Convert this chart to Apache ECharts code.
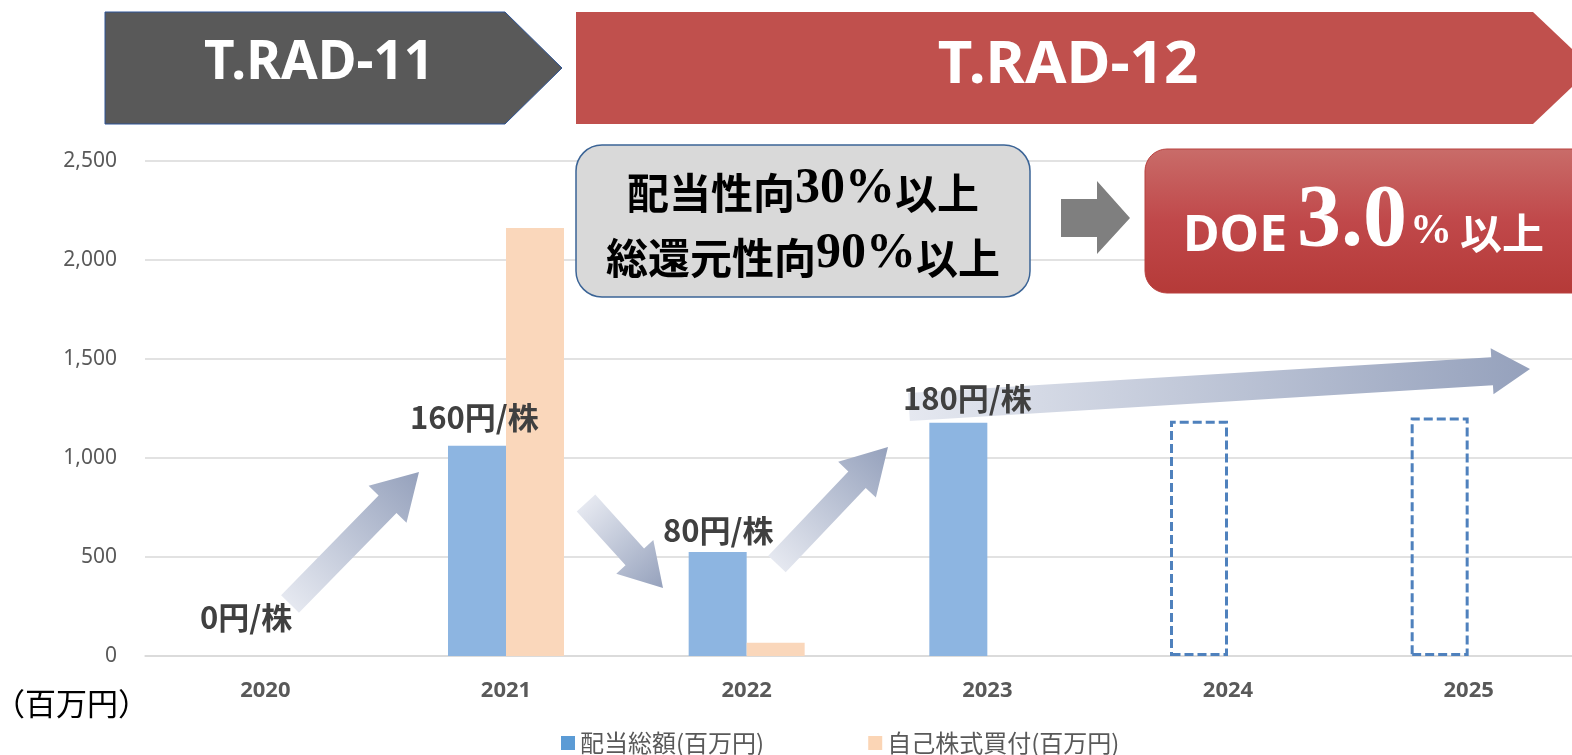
<!DOCTYPE html>
<html>
<head>
<meta charset="utf-8">
<script src="https://cdn.jsdelivr.net/npm/echarts@6/dist/echarts.min.js"></script>
<style>
  html, body { margin: 0; padding: 0; background: #fff; }
  #main { width: 1572px; height: 755px; }
</style>
</head>
<body>
<div id="main"></div>
<script>
// data
var years = ['2020', '2021', '2022', '2023', '2024', '2025'];
var dividendTotal = [0, 1062, 525, 1178, '-', '-'];
var buyback = [0, 2161, 67, 0, '-', '-'];
var planned = ['-', '-', '-', '-', 1188, 1205];
var dpsLabels = ['0円/株', '160円/株', '80円/株', '180円/株'];
var yTicks = [0, 500, 1000, 1500, 2000, 2500];

var jp = '"Noto Sans CJK JP", "Noto Sans", sans-serif';
var chart = echarts.init(document.getElementById('main'));

// block arrow polygon, tail centre -> tip
function arrowPts(x1, y1, x2, y2, sw, hw, hl) {
  var dx = x2 - x1, dy = y2 - y1, L = Math.sqrt(dx * dx + dy * dy);
  var ux = dx / L, uy = dy / L, nx = -uy, ny = ux;
  var bx = x2 - ux * hl, by = y2 - uy * hl;
  return [
    [x1 + nx * sw / 2, y1 + ny * sw / 2],
    [bx + nx * sw / 2, by + ny * sw / 2],
    [bx + nx * hw / 2, by + ny * hw / 2],
    [x2, y2],
    [bx - nx * hw / 2, by - ny * hw / 2],
    [bx - nx * sw / 2, by - ny * sw / 2],
    [x1 - nx * sw / 2, y1 - ny * sw / 2]
  ];
}
function blueArrow(x1, y1, x2, y2, sw, hw, hl) {
  return {
    type: 'polygon', z: 50,
    shape: { points: arrowPts(x1, y1, x2, y2, sw, hw, hl) },
    style: {
      fill: new echarts.graphic.LinearGradient(x1, y1, x2, y2, [
        { offset: 0, color: '#E5E8F0' },
        { offset: 1, color: '#95A1BC' }
      ], true)
    }
  };
}
function dpsText(i, x, y) {
  return {
    type: 'text', z: 60,
    style: { x: x, y: y, text: dpsLabels[i], fill: '#404040',
      font: 'bold 31px ' + jp, verticalAlign: 'middle' }
  };
}
function doeText(s, x, y, font) {
  return {
    type: 'text', z: 41,
    style: { x: x, y: y, text: s, fill: '#fff', font: font, verticalAlign: 'bottom' }
  };
}

var option = {
  animation: false,
  grid: { left: 145, right: -17, top: 161, bottom: 99, outerBoundsMode: 'none' },
  legend: {
    left: 556, top: 726,
    itemWidth: 14, itemHeight: 14, itemGap: 104,
    icon: 'rect',
    textStyle: { color: '#595959', fontSize: 24, fontFamily: jp },
    data: [
      { name: '配当総額(百万円)', itemStyle: { color: '#5B9BD5' } },
      { name: '自己株式買付(百万円)', itemStyle: { color: '#FBD5B5' } }
    ]
  },
  xAxis: {
    type: 'category',
    data: years,
    axisLine: { lineStyle: { color: '#D9D9D9', width: 1.5 } },
    axisTick: { show: false },
    axisLabel: {
      margin: 24,
      textStyle: { color: '#595959', fontSize: 22, fontWeight: 'bold', fontFamily: 'Noto Sans' }
    }
  },
  yAxis: {
    type: 'value', min: 0, max: 2500, interval: 500,
    axisLine: { show: false },
    axisTick: { show: false },
    splitLine: { lineStyle: { color: '#D9D9D9', width: 1.5 } },
    axisLabel: {
      margin: 28,
      textStyle: { color: '#595959', fontSize: 21, fontFamily: 'Noto Sans' },
      formatter: function (v) { return yTicks.indexOf(v) >= 0 ? v.toLocaleString('en-US') : ''; }
    }
  },
  series: [
    {
      name: '配当総額(百万円)', type: 'bar', stack: 'a',
      barWidth: 58, barGap: '0%',
      itemStyle: { color: '#8DB5E1' },
      data: dividendTotal
    },
    {
      name: '計画', type: 'bar', stack: 'a',
      barWidth: 58,
      itemStyle: { color: 'rgba(255,255,255,0)', borderColor: '#4F81BD', borderWidth: 3, borderType: [9, 4] },
      data: planned
    },
    {
      name: '自己株式買付(百万円)', type: 'bar',
      barWidth: 58, barGap: '0%',
      itemStyle: { color: '#FAD7BB' },
      data: buyback
    }
  ],
  graphic: [
    // period chevrons
    { type: 'polygon', z: 40,
      shape: { points: [[105, 12], [505, 12], [562, 68], [505, 124], [105, 124]] },
      style: { fill: '#595959', stroke: '#2F5597', lineWidth: 1 } },
    { type: 'text', z: 41,
      style: { x: 319, y: 64, text: 'T.RAD-11', fill: '#fff', font: 'bold 53px "Noto Sans", sans-serif',
        align: 'center', verticalAlign: 'middle' } },
    { type: 'polygon', z: 40,
      shape: { points: [[576, 12], [1533, 12], [1592, 68], [1533, 124], [576, 124]] },
      style: { fill: '#C0504D' } },
    { type: 'text', z: 41,
      style: { x: 1068, y: 66, text: 'T.RAD-12', fill: '#fff', font: 'bold 60px "Noto Sans", sans-serif',
        align: 'center', verticalAlign: 'middle' } },
    // policy boxes
    { type: 'rect', z: 40,
      shape: { x: 576, y: 145, width: 454, height: 152, r: 26 },
      style: { fill: '#D9D9D9', stroke: '#3B6496', lineWidth: 1.5 } },
    { type: 'text', z: 41,
      style: {
        x: 803, y: 214, align: 'center', verticalAlign: 'middle',
        text: '{j|配当性向}{n|30%}{j|以上}\n{j|総還元性向}{n|90%}{j|以上}',
        rich: {
          j: { font: 'bold 42px ' + jp, fill: '#000', lineHeight: 65, verticalAlign: 'bottom' },
          n: { font: 'bold 50px "Liberation Serif", serif', fill: '#000', lineHeight: 65, verticalAlign: 'bottom' }
        }
      } },
    { type: 'polygon', z: 40,
      shape: { points: [[1061, 199], [1097, 199], [1097, 181], [1130, 218], [1097, 254], [1097, 237], [1061, 237]] },
      style: { fill: '#7F7F7F' } },
    { type: 'rect', z: 40,
      shape: { x: 1145, y: 149, width: 460, height: 144, r: 22 },
      style: {
        fill: new echarts.graphic.LinearGradient(0, 0, 0, 1, [
          { offset: 0, color: '#C96C69' },
          { offset: 0.5, color: '#C0484A' },
          { offset: 1, color: '#B53A38' }
        ]),
        stroke: '#B8403E', lineWidth: 1
      } },
    doeText('DOE', 1183, 262, 'bold 50px "Noto Sans", sans-serif'),
    doeText('3.0', 1297, 266, 'bold 88px "Liberation Serif", serif'),
    doeText('%', 1410, 253, 'bold 42px "Liberation Serif", serif'),
    doeText('以上', 1460, 254, 'bold 42px ' + jp),
    // trend arrows
    blueArrow(290, 604, 419, 472, 25, 53, 45),
    blueArrow(586, 503, 663, 588, 25, 50, 42),
    blueArrow(777, 564, 888, 447, 24, 52, 45),
    blueArrow(909, 407, 1530, 369, 28, 46, 38),
    // dividend per share
    dpsText(0, 200, 617),
    dpsText(1, 410, 417),
    dpsText(2, 663, 530),
    dpsText(3, 903, 398),
    { type: 'text', z: 60,
      style: { x: -6, y: 703, text: '（百万円）', fill: '#000', font: '31px ' + jp, verticalAlign: 'middle' } }
  ]
};
chart.setOption(option);
</script>
</body>
</html>
